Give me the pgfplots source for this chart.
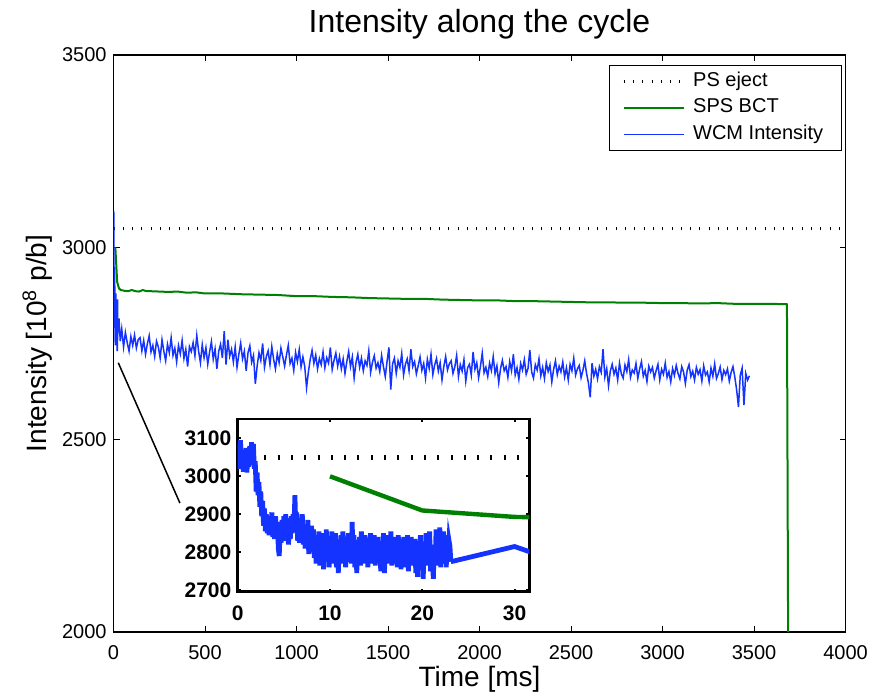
\documentclass[border=0pt]{standalone}
\usepackage{pgfplots}
\pgfplotsset{compat=1.18}
\usepackage{pgfplotstable}
\usepackage{fontspec}
\setmainfont{Liberation Sans}
\definecolor{mblue}{rgb}{0.08,0.2,1}
\definecolor{mgreen}{rgb}{0,0.5,0}

\pgfplotstableread{
x y
0 3050
4000 3050
}\pseject

\pgfplotstableread{
x y
10 3000
20 2910
30 2893
40 2889
50 2888
60 2887
80 2886
100 2889
120 2886
140 2885
160 2889
180 2886
200 2886
250 2885
300 2884
350 2885
400 2882
450 2883
500 2880
600 2880
700 2878
800 2877
900 2876
1000 2873
1100 2873
1200 2871
1300 2870
1400 2868
1500 2867
1600 2866
1700 2866
1800 2864
1900 2863
2000 2862
2100 2862
2200 2860
2300 2860
2400 2859
2500 2858
2600 2857
2700 2857
2800 2856
2900 2856
3000 2855
3100 2855
3200 2854
3300 2855
3400 2853
3500 2853
3600 2853
3680 2852
3690 1500
}\bct

\pgfplotstableread{
x y
0.0 3040
0.1 3085
0.2 3020
0.3 3095
0.4 3030
0.5 3070
0.6 3012
0.7 3060
0.8 3015
0.9 3075
1.0 3010
1.1 3065
1.2 3025
1.3 3080
1.4 3030
1.5 3090
1.6 3035
1.7 3085
1.8 3020
1.9 3040
2.0 2960
2.1 3010
2.2 2950
2.3 2985
2.4 2920
2.5 2960
2.6 2895
2.7 2935
2.8 2870
2.9 2915
3.0 2855
3.1 2900
3.2 2850
3.3 2895
3.4 2845
3.5 2890
3.6 2860
3.7 2905
3.8 2840
3.9 2880
4.0 2835
4.1 2895
4.2 2850
4.3 2880
4.4 2810
4.5 2790
4.6 2860
4.7 2825
4.8 2885
4.9 2840
5.0 2895
5.1 2830
5.2 2900
5.3 2845
5.4 2880
5.5 2820
5.6 2870
5.7 2835
5.8 2895
5.9 2850
6.0 2900
6.1 2870
6.2 2950
6.3 2860
6.4 2905
6.5 2830
6.6 2885
6.7 2825
6.8 2875
6.9 2840
7.0 2900
7.1 2820
7.2 2870
7.3 2810
7.4 2860
7.5 2830
7.6 2885
7.7 2795
7.8 2850
7.9 2815
8.0 2870
8.1 2800
8.2 2860
8.3 2785
8.4 2845
8.5 2770
8.6 2830
8.7 2790
8.8 2855
8.9 2765
9.0 2825
9.1 2780
9.2 2850
9.3 2755
9.4 2830
9.5 2790
9.6 2860
9.7 2775
9.8 2840
9.9 2760
10.0 2820
10.1 2795
10.2 2855
10.3 2770
10.4 2835
10.5 2785
10.6 2850
10.7 2760
10.8 2825
10.9 2745
11.0 2810
11.1 2780
11.2 2845
11.3 2770
11.4 2855
11.5 2790
11.6 2830
11.7 2760
11.8 2840
11.9 2775
12.0 2850
12.1 2790
12.2 2835
12.3 2770
12.4 2880
12.5 2795
12.6 2845
12.7 2760
12.8 2830
12.9 2745
13.0 2815
13.1 2775
13.2 2840
13.3 2765
13.4 2855
13.5 2785
13.6 2825
13.7 2770
13.8 2845
13.9 2780
14.0 2835
14.1 2760
14.2 2830
14.3 2790
14.4 2850
14.5 2770
14.6 2820
14.7 2785
14.8 2845
14.9 2765
15.0 2835
15.1 2780
15.2 2840
15.3 2770
15.4 2825
15.5 2750
15.6 2830
15.7 2785
15.8 2850
15.9 2745
16.0 2815
16.1 2775
16.2 2845
16.3 2770
16.4 2835
16.5 2790
16.6 2855
16.7 2765
16.8 2825
16.9 2780
17.0 2840
17.1 2770
17.2 2830
17.3 2760
17.4 2845
17.5 2785
17.6 2820
17.7 2755
17.8 2835
17.9 2775
18.0 2840
18.1 2760
18.2 2825
18.3 2780
18.4 2845
18.5 2750
18.6 2830
18.7 2770
18.8 2840
18.9 2765
19.0 2820
19.1 2780
19.2 2835
19.3 2745
19.4 2830
19.5 2735
19.6 2815
19.7 2770
19.8 2845
19.9 2760
20.0 2825
20.1 2730
20.2 2810
20.3 2775
20.4 2850
20.5 2765
20.6 2835
20.7 2780
20.8 2855
20.9 2750
21.0 2820
21.1 2770
21.2 2730
21.3 2815
21.4 2780
21.5 2860
21.6 2765
21.7 2845
21.8 2785
21.9 2865
22.0 2760
22.1 2840
22.2 2775
22.3 2855
22.4 2770
22.5 2835
22.6 2760
22.7 2845
22.8 2780
22.9 2830
23.0 2815
23.1 2775
}\wcmfine

\pgfplotstableread{
x y
23.1 2775
30 2815
37 2756
45 2788
55 2741
65 2779
75 2752
85 2730
95 2768
105 2745
115 2772
125 2738
135 2760
145 2765
155 2731
165 2758
175 2722
185 2749
195 2770
205 2728
215 2745
225 2716
235 2756
245 2741
255 2712
265 2760
275 2730
285 2705
295 2748
305 2726
315 2765
325 2719
335 2738
345 2702
355 2745
365 2723
375 2758
385 2711
395 2735
405 2690
415 2742
425 2729
435 2752
445 2718
455 2771
465 2730
475 2700
485 2747
495 2713
505 2739
515 2696
525 2728
535 2755
545 2709
555 2736
565 2684
575 2730
585 2748
595 2712
605 2782
615 2695
625 2760
635 2717
645 2735
655 2702
665 2741
675 2688
685 2722
695 2751
705 2710
715 2730
725 2679
735 2726
745 2744
755 2701
765 2719
775 2645
785 2692
795 2726
805 2706
815 2750
825 2688
835 2716
845 2731
855 2695
865 2742
875 2709
885 2684
895 2723
905 2700
915 2738
925 2715
935 2691
945 2720
955 2745
965 2698
975 2712
985 2680
995 2727
1005 2703
1015 2734
1025 2689
1035 2715
1045 2690
1055 2635
1065 2676
1075 2709
1085 2732
1095 2698
1105 2720
1115 2684
1125 2711
1135 2695
1145 2728
1155 2687
1165 2713
1175 2699
1185 2740
1195 2682
1205 2706
1215 2725
1225 2691
1235 2716
1245 2684
1255 2710
1265 2672
1275 2703
1285 2729
1295 2690
1305 2715
1315 2660
1325 2700
1335 2722
1345 2688
1355 2712
1365 2679
1375 2705
1385 2693
1395 2731
1405 2675
1415 2701
1425 2718
1435 2686
1445 2700
1455 2677
1465 2719
1475 2690
1485 2664
1495 2704
1505 2740
1515 2630
1525 2697
1535 2712
1545 2672
1555 2705
1565 2688
1575 2724
1585 2668
1595 2696
1605 2710
1615 2679
1625 2735
1635 2690
1645 2703
1655 2671
1665 2692
1675 2715
1685 2680
1695 2698
1705 2660
1715 2709
1725 2685
1735 2722
1745 2669
1755 2694
1765 2711
1775 2678
1785 2700
1795 2655
1805 2690
1815 2716
1825 2681
1835 2697
1845 2705
1855 2672
1865 2689
1875 2719
1885 2664
1895 2695
1905 2678
1915 2708
1925 2652
1935 2687
1945 2696
1955 2668
1965 2728
1975 2683
1985 2700
1995 2661
2005 2690
2015 2725
2025 2674
2035 2688
2045 2664
2055 2699
2065 2680
2075 2716
2085 2671
2095 2692
2105 2648
2115 2685
2125 2706
2135 2679
2145 2690
2155 2662
2165 2703
2175 2679
2185 2722
2195 2668
2205 2687
2215 2657
2225 2698
2235 2681
2245 2708
2255 2670
2265 2685
2275 2733
2285 2676
2295 2660
2305 2695
2315 2681
2325 2710
2335 2666
2345 2688
2355 2659
2365 2700
2375 2677
2385 2694
2395 2650
2405 2683
2415 2705
2425 2669
2435 2691
2445 2676
2455 2702
2465 2663
2475 2687
2485 2655
2495 2696
2505 2679
2515 2712
2525 2668
2535 2684
2545 2693
2555 2661
2565 2680
2575 2705
2585 2672
2595 2648
2605 2610
2615 2699
2625 2665
2635 2683
2645 2658
2655 2690
2665 2675
2675 2735
2685 2663
2695 2685
2705 2640
2715 2679
2725 2696
2735 2670
2745 2686
2755 2655
2765 2699
2775 2671
2785 2660
2795 2694
2805 2677
2815 2708
2825 2662
2835 2681
2845 2673
2855 2698
2865 2659
2875 2684
2885 2703
2895 2665
2905 2680
2915 2651
2925 2691
2935 2676
2945 2688
2955 2660
2965 2679
2975 2696
2985 2655
2995 2683
3005 2670
3015 2699
3025 2662
3035 2677
3045 2650
3055 2685
3065 2667
3075 2693
3085 2672
3095 2658
3105 2690
3115 2676
3125 2646
3135 2681
3145 2695
3155 2664
3165 2678
3175 2655
3185 2688
3195 2670
3205 2682
3215 2652
3225 2692
3235 2668
3245 2676
3255 2650
3265 2686
3275 2665
3285 2697
3295 2659
3305 2672
3315 2689
3325 2656
3335 2680
3345 2669
3355 2684
3365 2652
3375 2675
3385 2690
3395 2663
3405 2630
3415 2585
3425 2668
3435 2686
3445 2590
3455 2672
3465 2655
3475 2666
}\wcmcoarse

\begin{document}
\begin{tikzpicture}
\useasboundingbox (0,0) rectangle (435pt,347pt);
\begin{axis}[
  at={(56.75pt,31pt)}, anchor=south west,
  width=366pt, height=288.5pt, scale only axis,
  xmin=0, xmax=4000, ymin=2000, ymax=3500,
  xtick={0,500,...,4000}, ytick={2000,2500,3000,3500},
  tick align=inside, major tick length=3pt,
  axis line style={line width=0.65pt},
  every tick/.style={black, line width=0.5pt},
  scaled ticks=false,
  /pgf/number format/1000 sep={},
  /pgf/number format/assume math mode=true,
  tick label style={font=\fontsize{10}{12}\selectfont},
  yticklabel style={inner sep=0pt, anchor=east, xshift=-3.25pt},
  xticklabel style={inner sep=0pt, anchor=north, yshift=-6.5pt},
  title={Intensity along the cycle},
  title style={at={(axis description cs:0.5,1.019)}, anchor=base, inner sep=0pt, font=\fontsize{16}{19}\selectfont},
  xlabel={Time [ms]},
  xlabel style={at={(axis description cs:0.5,-0.0953)}, anchor=base, inner sep=0pt, font=\fontsize{14}{17}\selectfont},
  ylabel={Intensity [10\textsuperscript{8} p/b]},
  ylabel style={at={(axis description cs:-0.0913,0.5)}, anchor=base, inner sep=0pt, font=\fontsize{14}{17}\selectfont},
  legend style={at={(axis description cs:0.9952,0.9827)}, anchor=north east, draw=black, line width=0.5pt,
    font=\fontsize{10}{12}\selectfont, inner xsep=6.35pt, inner ysep=3pt, row sep=3.2pt,
    nodes={inner sep=0pt, text height=7.5pt, text depth=2.5pt},
    /tikz/every odd column/.append style={column sep=4pt}},
  legend cell align=left,
  legend image code/.code={\draw[#1] (0pt,0pt) -- (30pt,0pt);},
]
\addplot[black, line width=1.5pt, dash pattern=on 0.5pt off 4.15pt] table {\pseject};
\addlegendentry{PS eject}
\addplot[mgreen, line width=1pt] table {\bct};
\addlegendentry{SPS BCT}
\addplot[mblue, line width=0.75pt] table {\wcmcoarse};
\addlegendentry{WCM Intensity\hspace*{2.8pt}}
\addplot[mblue, line width=0.75pt, forget plot] table {\wcmfine};
\draw[black, line width=0.75pt] (axis cs:26,2700) -- (axis cs:363,2335);
\end{axis}

\begin{axis}[
  at={(118.85pt,51.15pt)}, anchor=south west,
  width=145.8pt, height=86.35pt, scale only axis,
  xmin=0, xmax=31.6, ymin=2696, ymax=3151,
  xtick={0,10,20,30}, ytick={2700,2800,2900,3000,3100},
  tick align=inside, major tick length=1.5pt,
  axis line style={line width=1.3pt},
  every tick/.style={black, line width=1pt},
  axis background/.style={fill=white},
  scaled ticks=false,
  /pgf/number format/1000 sep={},
  /pgf/number format/assume math mode=true,
  tick label style={font=\fontsize{10.5}{12}\selectfont\bfseries},
  yticklabel style={inner sep=0pt, anchor=east, xshift=-3pt},
  xticklabel style={inner sep=0pt, anchor=north, yshift=-6.65pt},
]
\addplot[black, line width=2.5pt, dash pattern=on 1pt off 5.65pt] coordinates {(0,3050) (31.6,3050)};
\addplot[mgreen, line width=2.2pt, restrict x to domain=0:40] table {\bct};
\addplot[mblue, line width=2.4pt] table {\wcmfine};
\addplot[mblue, line width=2.4pt, restrict x to domain=0:40] table {\wcmcoarse};
\end{axis}
\end{tikzpicture}
\end{document}
